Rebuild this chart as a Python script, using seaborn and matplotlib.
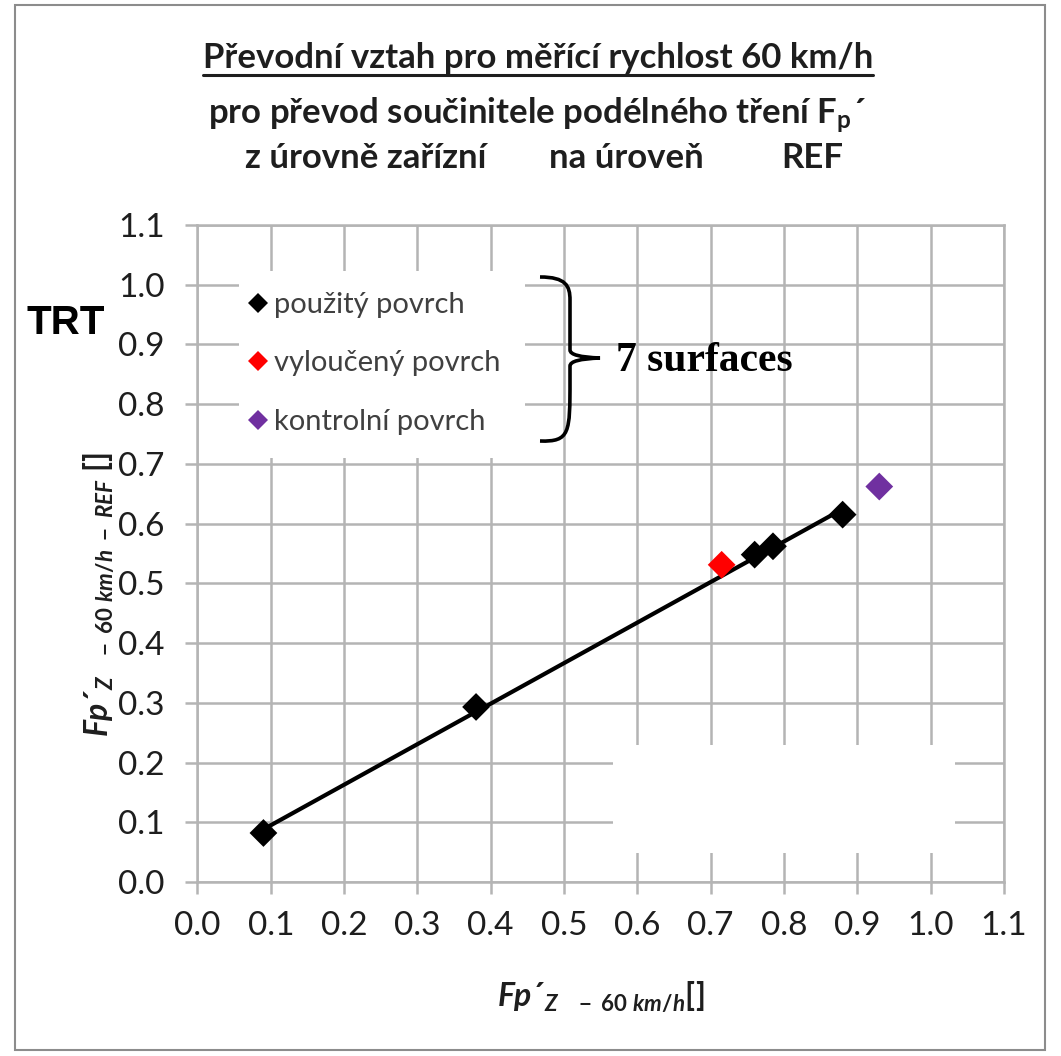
"""
Převodní vztah pro měřící rychlost 60 km/h (TRT -> REF).
Scatter of surfaces with linear trend line, Excel-like styling.
"""

import matplotlib.pyplot as plt
import pandas as pd
import seaborn as sns
from matplotlib.lines import Line2D
from matplotlib.patches import Rectangle, PathPatch
from matplotlib.path import Path

# ==========================================
# DATA
# ==========================================
fp_device = [0.09, 0.38, 0.76, 0.785, 0.88, 0.715, 0.93]
fp_ref = [0.082, 0.293, 0.548, 0.562, 0.615, 0.531, 0.662]
surface = ["použitý povrch"] * 5 + ["vyloučený povrch", "kontrolní povrch"]

legend_order = ["použitý povrch", "vyloučený povrch", "kontrolní povrch"]
palette = {"použitý povrch": "#000000",
           "vyloučený povrch": "#ff0000",
           "kontrolní povrch": "#7030a0"}

tick_vals = [i / 10 for i in range(12)]
tick_labels = [f"{v:.1f}" for v in tick_vals]

title_1 = "Převodní vztah pro měřící rychlost 60 km/h"
title_2 = r"pro převod součinitele podélného tření F$_{\mathrm{p}}$´"
title_3 = ["z úrovně zařízní", "na úroveň", "REF"]
xlabel = r"$\mathit{Fp´_{Z\ \ \ -\ 60\ km/h}[]}$"
ylabel = r"$\mathit{Fp´_{Z\ \ \ -\ 60\ km/h\ -\ REF}\ []}$"


def main():
    df = pd.DataFrame({"x": fp_device, "y": fp_ref, "surface": surface})
    used = df[df["surface"] == "použitý povrch"]

    sns.set_theme(style="white")
    plt.rcParams["font.family"] = ["Lato", "DejaVu Sans"]
    plt.rcParams["mathtext.fontset"] = "custom"
    plt.rcParams["mathtext.rm"] = "Lato:bold"
    plt.rcParams["mathtext.it"] = "Lato:italic:bold"
    plt.rcParams["mathtext.bf"] = "Lato:bold"

    W, H = 1061, 1056
    fig = plt.figure(figsize=(W / 100, H / 100), dpi=100)
    ax = fig.add_axes([0.1861, 0.1648, 0.7601, 0.6222])

    grid_c = "#b4b4b4"
    ink = "#1e1e1e"

    # trend line over the used surfaces
    sns.regplot(data=used, x="x", y="y", scatter=False, ci=None, truncate=True,
                line_kws=dict(color="black", lw=3.0, zorder=3), ax=ax)

    sns.scatterplot(data=df, x="x", y="y", hue="surface", hue_order=legend_order,
                    palette=palette, marker="D", s=200, linewidth=0,
                    zorder=4, ax=ax, legend=True)

    # ---------- axes formatting ----------
    ax.set_xlim(0, 1.1)
    ax.set_ylim(0, 1.1)
    ax.set_xticks(tick_vals, tick_labels)
    ax.set_yticks(tick_vals, tick_labels)
    ax.set_axisbelow(True)
    ax.grid(True, color=grid_c, lw=1.8)
    for sp in ax.spines.values():
        sp.set_color(grid_c)
        sp.set_linewidth(1.8)
    ax.tick_params(axis="both", which="major", length=8.6, width=1.8,
                   color=grid_c, labelsize=24, labelcolor=ink,
                   direction="out", bottom=True, left=True)
    ax.tick_params(axis="y", pad=15)
    ax.tick_params(axis="x", pad=12)

    ax.set_xlabel(xlabel, fontsize=23, color=ink)
    ax.set_ylabel(ylabel, fontsize=23, color=ink)
    ax.xaxis.set_label_coords(0.5, -0.175)
    ax.xaxis.label.set_va("center")
    ax.yaxis.set_label_coords(-0.122, 0.437)
    ax.yaxis.label.set_va("center")

    # white cover in lower right (as in the source)
    ax.add_patch(Rectangle((0.515, 0.044), 0.424, 0.165, transform=ax.transAxes,
                           facecolor="white", edgecolor="none", zorder=1))

    # ---------- legend ----------
    ax.add_patch(Rectangle((0.0515, 0.645), 0.3545, 0.285, transform=ax.transAxes,
                           facecolor="white", edgecolor="none", zorder=1))
    handles = [Line2D([], [], marker="D", ls="", color=palette[k], markersize=10.5,
                      markeredgewidth=0) for k in legend_order]
    leg = ax.legend(handles, legend_order, loc="upper left",
                    bbox_to_anchor=(0.05, 0.916), frameon=False, fontsize=21,
                    handlelength=0.6, handletextpad=0.25, labelspacing=1.12,
                    borderaxespad=0)
    for t in leg.get_texts():
        t.set_color("#404040")

    # ---------- title ----------
    t1 = fig.text(0.507, 1 - 58 / H, title_1, ha="center", va="center",
                  fontsize=25, fontweight="bold", color=ink)
    fig.text(0.506, 1 - 115 / H, title_2, ha="center", va="center",
             fontsize=25, fontweight="bold", color=ink)
    for part, cx in zip(title_3, [366, 626, 812]):
        fig.text(cx / W, 1 - 158 / H, part, ha="center", va="center",
                 fontsize=25, fontweight="bold", color=ink)
    fig.canvas.draw()
    bb = t1.get_window_extent()
    uy = (bb.y0 - 1) / H
    fig.add_artist(Line2D([bb.x0 / W, bb.x1 / W], [uy, uy],
                          transform=fig.transFigure, color=ink, lw=2.2))

    # ---------- annotations ----------
    fig.text(66 / W, 1 - 323 / H, "TRT", ha="center", va="center", fontsize=29,
             fontweight="bold", family=["Liberation Sans"], color="black")

    def px(x, y):
        return (x / W, 1 - y / H)

    verts = [px(540, 277), px(566, 277), px(570, 286), px(570, 300),
             px(570, 350), px(570, 357), px(600, 358),
             px(570, 359), px(570, 366), px(570, 380),
             px(570, 433), px(570, 442), px(540, 441)]
    codes = [Path.MOVETO, Path.CURVE4, Path.CURVE4, Path.CURVE4,
             Path.LINETO, Path.CURVE3, Path.CURVE3,
             Path.CURVE3, Path.CURVE3, Path.LINETO,
             Path.CURVE4, Path.CURVE4, Path.CURVE4]
    fig.add_artist(PathPatch(Path(verts, codes), transform=fig.transFigure,
                             facecolor="none", edgecolor="black", lw=2.6))
    fig.text(616 / W, 1 - 361 / H, "7 surfaces", ha="left", va="center",
             fontsize=30, fontweight="bold", family=["Liberation Serif"],
             color="black")

    # outer chart border
    fig.add_artist(Rectangle((15 / W, 1 - 1050 / H), 1030 / W, 1045 / H,
                             transform=fig.transFigure, facecolor="none",
                             edgecolor="#8c8c8c", lw=1.5))

    fig.savefig("out.png", dpi=100)
    plt.close(fig)


if __name__ == "__main__":
    main()
